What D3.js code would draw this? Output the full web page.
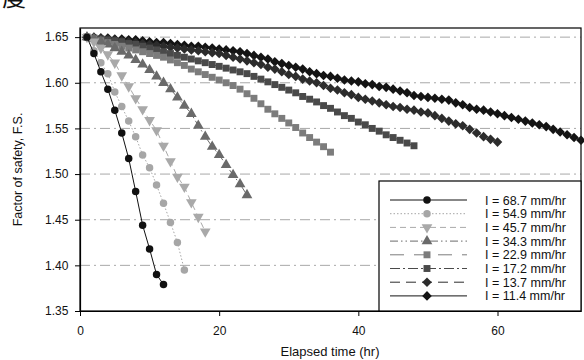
<!DOCTYPE html>
<html><head><meta charset="utf-8">
<script src="https://cdn.jsdelivr.net/npm/d3@7/dist/d3.min.js"></script>
<style>
html,body{margin:0;padding:0;background:#fff;}
svg{display:block;font-family:"Liberation Sans",Arial,sans-serif;}
</style></head>
<body><svg id="c" width="584" height="360"></svg>
<script>
// ---- data ----
const seriesLabels = ["I = 68.7 mm/hr","I = 54.9 mm/hr","I = 45.7 mm/hr","I = 34.3 mm/hr","I = 22.9 mm/hr","I = 17.2 mm/hr","I = 13.7 mm/hr","I = 11.4 mm/hr"];
const fs_68_7 = [1.650,1.632,1.612,1.593,1.570,1.545,1.517,1.481,1.444,1.418,1.390,1.379];
const fs_54_9 = [1.650,1.635,1.622,1.610,1.590,1.574,1.558,1.541,1.521,1.507,1.488,1.468,1.447,1.425,1.395];
const fs_45_7 = [1.650,1.645,1.638,1.631,1.622,1.608,1.596,1.583,1.571,1.559,1.548,1.531,1.514,1.497,1.486,1.469,1.453,1.437];
const fs_34_3 = [1.650,1.648,1.645,1.642,1.638,1.634,1.630,1.625,1.620,1.614,1.607,1.600,1.593,1.584,1.575,1.566,1.553,1.541,1.530,1.521,1.510,1.499,1.489,1.477];
const fs_22_9 = [1.650,1.648,1.646,1.644,1.642,1.640,1.638,1.636,1.634,1.632,1.630,1.628,1.625,1.622,1.619,1.615,1.612,1.609,1.606,1.603,1.600,1.597,1.593,1.588,1.583,1.577,1.571,1.566,1.561,1.556,1.551,1.545,1.540,1.535,1.530,1.524];
const fs_17_2 = [1.650,1.649,1.648,1.647,1.646,1.645,1.643,1.642,1.640,1.638,1.636,1.634,1.632,1.630,1.628,1.626,1.624,1.622,1.620,1.618,1.616,1.614,1.612,1.610,1.607,1.604,1.601,1.598,1.595,1.592,1.589,1.585,1.582,1.579,1.575,1.572,1.568,1.564,1.561,1.557,1.554,1.550,1.547,1.543,1.540,1.537,1.534,1.531];
const fs_13_7 = [1.650,1.649,1.649,1.648,1.647,1.646,1.645,1.644,1.643,1.642,1.641,1.640,1.639,1.638,1.637,1.636,1.635,1.634,1.633,1.632,1.630,1.628,1.626,1.624,1.622,1.620,1.617,1.615,1.612,1.609,1.607,1.604,1.602,1.600,1.597,1.594,1.592,1.589,1.587,1.584,1.582,1.580,1.578,1.576,1.574,1.573,1.571,1.570,1.568,1.567,1.564,1.561,1.558,1.555,1.553,1.549,1.545,1.541,1.538,1.535];
const fs_11_4 = [1.650,1.650,1.649,1.649,1.648,1.648,1.647,1.647,1.646,1.645,1.644,1.644,1.643,1.642,1.641,1.640,1.640,1.639,1.638,1.637,1.636,1.635,1.634,1.632,1.630,1.628,1.626,1.623,1.621,1.619,1.617,1.615,1.612,1.610,1.608,1.607,1.605,1.603,1.602,1.601,1.599,1.598,1.596,1.595,1.593,1.591,1.589,1.586,1.585,1.584,1.583,1.582,1.581,1.578,1.576,1.573,1.571,1.570,1.568,1.566,1.564,1.562,1.560,1.558,1.556,1.554,1.552,1.549,1.546,1.543,1.540,1.537];
const firstHour = 1; // first reading at 1 hr, then hourly
const xTicks = [0,20,40,60];
const yTicks = [1.35,1.40,1.45,1.50,1.55,1.60,1.65];

const seriesValues = [fs_68_7,fs_54_9,fs_45_7,fs_34_3,fs_22_9,fs_17_2,fs_13_7,fs_11_4];

// ---- styles ----
const styles = [
  {sym:"circle", fill:"#111", stroke:"#111", dash:null, size:44, rot:0},
  {sym:"circle", fill:"#a6a6a6", stroke:"#a6a6a6", dash:"1.5,2", size:44, rot:0},
  {sym:"triangle", fill:"#a9a9a9", stroke:"#a9a9a9", dash:"6,4", size:50, rot:180},
  {sym:"triangle", fill:"#6a6a6a", stroke:"#6a6a6a", dash:"8,3,1.5,3,1.5,3", size:50, rot:0},
  {sym:"square", fill:"#7c7c7c", stroke:"#7c7c7c", dash:"14,10", size:48, rot:0},
  {sym:"square", fill:"#4a4a4a", stroke:"#4a4a4a", dash:"10,3,2,3", size:48, rot:0},
  {sym:"square", fill:"#2c2c2c", stroke:"#2c2c2c", dash:"10,6", size:46, rot:45},
  {sym:"square", fill:"#141414", stroke:"#141414", dash:null, size:46, rot:45}
];
const symMap = {circle:d3.symbolCircle, triangle:d3.symbolTriangle, square:d3.symbolSquare};

const svg = d3.select("#c");
const M = {left:80, top:28, right:581, bottom:311};
const x = d3.scaleLinear().domain([0,72]).range([M.left, M.right]);
const y = d3.scaleLinear().domain([1.35,1.66]).range([M.bottom, M.top]);

// corner glyph from source page (cut off at top, as in the source scan)
svg.append("text").attr("x",2).attr("y",6).attr("font-size",24)
  .attr("font-family","'Noto Sans CJK SC',sans-serif").attr("fill","#111").text("度");

// gridlines
svg.append("g").selectAll("line").data(yTicks.filter(v=>v>1.351)).join("line")
  .attr("x1",M.left).attr("x2",M.right)
  .attr("y1",d=>y(d)).attr("y2",d=>y(d))
  .attr("stroke","#a8a8a8").attr("stroke-width",1).attr("stroke-dasharray","10,4,2,4");

// frame
svg.append("rect").attr("x",M.left).attr("y",M.top).attr("width",M.right-M.left).attr("height",M.bottom-M.top)
  .attr("fill","none").attr("stroke","#000").attr("stroke-width",1.2);

// axes
const xAxis = d3.axisBottom(x).tickValues(xTicks).tickSize(5).tickSizeOuter(0).tickFormat(d3.format("d"));
const yAxis = d3.axisLeft(y).tickValues(yTicks).tickSize(5).tickSizeOuter(0).tickFormat(d3.format(".2f"));
const gx = svg.append("g").attr("transform",`translate(0,${M.bottom})`).call(xAxis);
const gy = svg.append("g").attr("transform",`translate(${M.left},0)`).call(yAxis);
[gx,gy].forEach(g=>{
  g.select(".domain").attr("stroke","#000").attr("stroke-width",1.2);
  g.selectAll(".tick line").attr("stroke","#000");
  g.selectAll("text").attr("font-size",12).attr("fill","#111").attr("font-family","'Liberation Sans',Arial,sans-serif");
});
gx.selectAll("text").attr("dy","1.3em");
gy.selectAll("text").attr("dx","-0.3em");

// axis titles
svg.append("text").attr("x",330).attr("y",356).attr("text-anchor","middle").attr("font-size",13).attr("fill","#111").text("Elapsed time (hr)");
svg.append("text").attr("transform",`translate(22,${(M.top+M.bottom)/2}) rotate(-90)`).attr("text-anchor","middle").attr("font-size",12.5).attr("fill","#111").text("Factor of safety, F.S.");

// series
const plot = svg.append("g");
const line = d3.line().x(d=>x(d.t)).y(d=>y(d.v));
for (let i = seriesValues.length-1; i>=0; i--) {
  const st = styles[i];
  const pts = seriesValues[i].map((v,k)=>({t:firstHour+k, v}));
  const g = plot.append("g");
  g.append("path").datum(pts).attr("d",line).attr("fill","none")
    .attr("stroke",st.stroke).attr("stroke-width",1)
    .attr("stroke-dasharray",st.dash);
  const sym = d3.symbol().type(symMap[st.sym]).size(st.size);
  g.selectAll("path.m").data(pts).join("path").attr("class","m")
    .attr("d",sym).attr("fill",st.fill)
    .attr("transform",d=>`translate(${x(d.t)},${y(d.v)}) rotate(${st.rot})`);
}

// legend
const L = {x0:379, y0:181, x1:581, y1:311};
const lg = svg.append("g");
lg.append("rect").attr("x",L.x0).attr("y",L.y0).attr("width",L.x1-L.x0).attr("height",L.y1-L.y0)
  .attr("fill","#fff").attr("stroke","#000").attr("stroke-width",1.2);
seriesLabels.forEach((lab,i)=>{
  const st = styles[i];
  const yy = 200 + i*13.7;
  lg.append("line").attr("x1",390).attr("x2",467).attr("y1",yy).attr("y2",yy)
    .attr("stroke",st.stroke).attr("stroke-width",1).attr("stroke-dasharray",st.dash);
  lg.append("path").attr("d",d3.symbol().type(symMap[st.sym]).size(st.size)())
    .attr("fill",st.fill).attr("transform",`translate(427,${yy}) rotate(${st.rot})`);
  lg.append("text").attr("x",485).attr("y",yy+4.5).attr("font-size",12.5).attr("fill","#111").text(lab);
});
</script></body></html>
